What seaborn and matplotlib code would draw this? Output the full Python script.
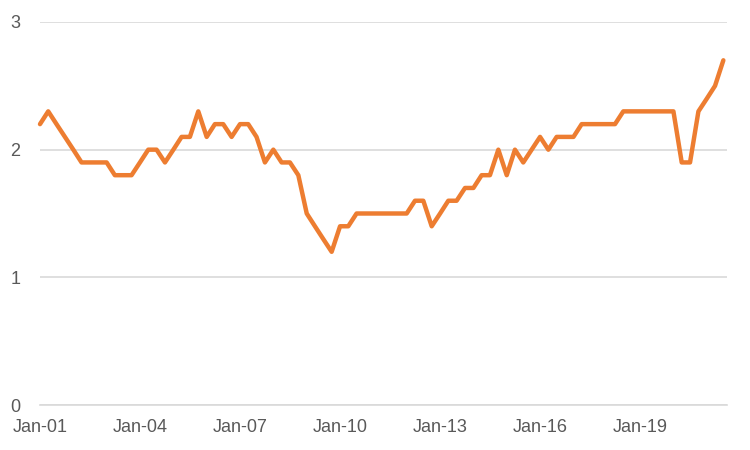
import pandas as pd
import matplotlib
matplotlib.use("Agg")
import matplotlib.pyplot as plt
import matplotlib.dates as mdates
import seaborn as sns

# quarterly values, Jan-01 .. Jul-21
start_date = "2001-01-01"
end_limit = "2021-08-10"
values = [
    2.2, 2.3, 2.2, 2.1, 2.0, 1.9, 1.9, 1.9, 1.9, 1.8, 1.8, 1.8,   # 2001-2003
    1.9, 2.0, 2.0, 1.9, 2.0, 2.1, 2.1, 2.3, 2.1, 2.2, 2.2, 2.1,   # 2004-2006
    2.2, 2.2, 2.1, 1.9, 2.0, 1.9, 1.9, 1.8, 1.5, 1.4, 1.3, 1.2,   # 2007-2009
    1.4, 1.4, 1.5, 1.5, 1.5, 1.5, 1.5, 1.5, 1.5, 1.6, 1.6, 1.4,   # 2010-2012
    1.5, 1.6, 1.6, 1.7, 1.7, 1.8, 1.8, 2.0, 1.8, 2.0, 1.9, 2.0,   # 2013-2015
    2.1, 2.0, 2.1, 2.1, 2.1, 2.2, 2.2, 2.2, 2.2, 2.2, 2.3, 2.3,   # 2016-2018
    2.3, 2.3, 2.3, 2.3, 2.3, 1.9, 1.9, 2.3, 2.4, 2.5, 2.7,        # 2019-2021
]
tick_years = [2001, 2004, 2007, 2010, 2013, 2016, 2019]
y_ticks = [0, 1, 2, 3]

line_color = "#ED7D31"
grid_color = "#D9D9D9"
text_color = "#595959"

dates = pd.date_range(start_date, periods=len(values), freq="QS")
df = pd.DataFrame({"date": dates, "value": values})

sns.set_style("white")
plt.rcParams["font.family"] = ["Liberation Sans", "DejaVu Sans"]

fig = plt.figure(figsize=(7.5, 4.5), dpi=100)
ax = fig.add_axes([40 / 750, 45 / 450, 687 / 750, 383 / 450])

sns.lineplot(data=df, x="date", y="value", ax=ax, color=line_color,
             linewidth=3.2, solid_capstyle="round", solid_joinstyle="round",
             clip_on=False, zorder=3)

ax.set_xlim(pd.Timestamp(start_date), pd.Timestamp(end_limit))
ax.set_ylim(0, 3)
ax.set_yticks(y_ticks)
ax.set_xticks([pd.Timestamp(f"{y}-01-01") for y in tick_years])
ax.xaxis.set_major_formatter(mdates.DateFormatter("%b-%y"))

ax.grid(axis="y", color=grid_color, linewidth=1.2)
ax.grid(axis="x", visible=False)
ax.set_axisbelow(True)

for side in ["left", "right", "top"]:
    ax.spines[side].set_visible(False)
ax.spines["bottom"].set_color(grid_color)
ax.spines["bottom"].set_linewidth(1.2)

ax.tick_params(axis="x", colors=grid_color, length=5, width=1.2,
               direction="out", pad=5, labelsize=13, labelcolor=text_color)
ax.tick_params(axis="y", length=0, pad=14, labelsize=13, labelcolor=text_color)

ax.set_xlabel("")
ax.set_ylabel("")

fig.savefig("out.png", dpi=100)
